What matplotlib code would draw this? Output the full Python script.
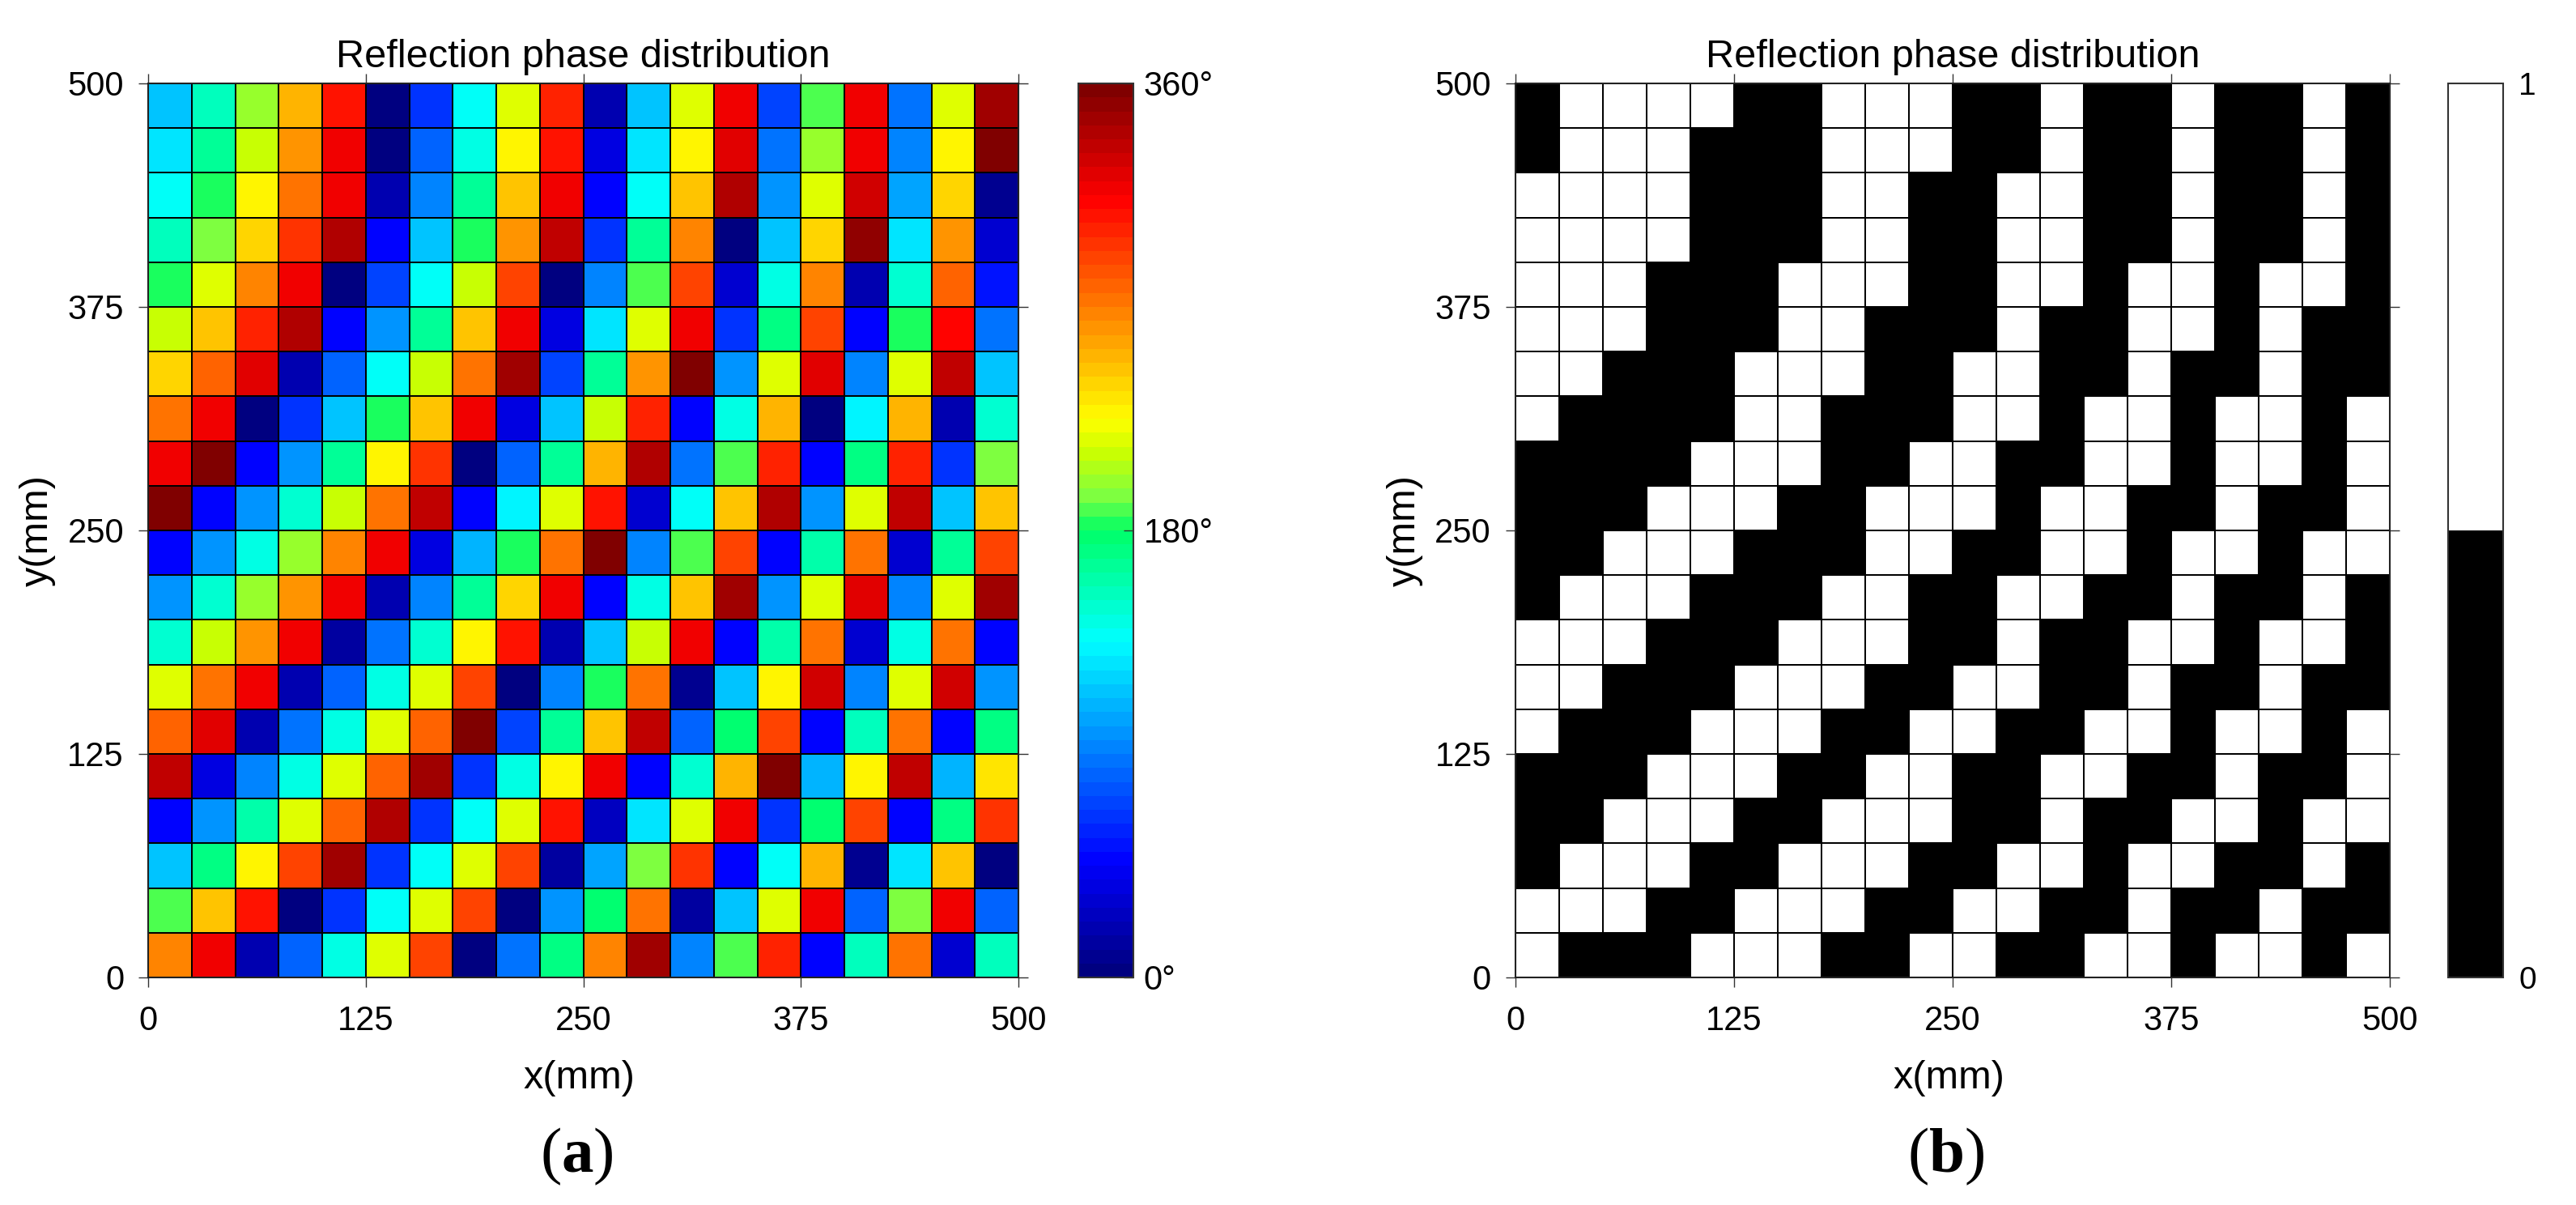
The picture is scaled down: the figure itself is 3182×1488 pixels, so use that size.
import numpy as np
import matplotlib
matplotlib.use("Agg")
import matplotlib.pyplot as plt
from matplotlib.colors import LinearSegmentedColormap, ListedColormap, Normalize

# ---------------- data (rows listed from top, y=500, to bottom, y=0) ----------------
phase_deg = [
    [117, 155, 202, 253, 307,   0,  67, 140, 214, 301,  22, 117, 219, 315,  73, 190, 315,  85, 219, 348],
    [124, 166, 209, 259, 315,   5,  79, 145, 225, 309,  34, 129, 230, 321,  85, 202, 315,  90, 225, 355],
    [135, 180, 225, 275, 315,  22,  90, 165, 243, 315,  45, 140, 243, 339,  96, 219, 327, 104, 237,   8],
    [155, 194, 241, 294, 339,  45, 113, 182, 259, 333,  67, 165, 265,   3, 117, 237, 351, 124, 259,  33],
    [180, 219, 265, 315,   3,  73, 140, 209, 289,   0,  93, 190, 292,  33, 145, 267,  22, 150, 281,  56],
    [209, 247, 301, 339,  45, 101, 168, 243, 315,  38, 129, 219, 315,  67, 171, 292,  45, 180, 312,  85],
    [237, 281, 321,  22,  79, 140, 209, 275, 348,  73, 165, 259, 355, 101, 214, 321,  90, 214, 333, 117],
    [275, 315,   3,  62, 117, 180, 247, 315,  34, 117, 209, 301,  45, 145, 253,   3, 132, 253,  20, 150],
    [315, 355,  45, 101, 165, 225, 295,   3,  79, 165, 253, 339,  85, 190, 301,  45, 172, 301,  67, 196],
    [355,  45,  96, 148, 209, 275, 333,  45, 132, 214, 307,  33, 135, 243, 339, 101, 219, 333, 113, 247],
    [ 45,  96, 145, 202, 265, 315,  34, 107, 181, 270, 355,  93, 190, 292,  45, 160, 275,  33, 165, 292],
    [101, 148, 202, 259, 315,  20,  93, 166, 241, 315,  50, 145, 247, 348,  96, 214, 321,  90, 219, 345],
    [150, 209, 259, 315,  14,  88, 148, 225, 307,  22, 117, 209, 315,  45, 160, 270,  33, 145, 275,  45],
    [219, 270, 315,  20,  81, 145, 214, 292,   3,  93, 180, 275,  11, 113, 225, 327,  90, 214, 327, 101],
    [281, 321,  20,  85, 145, 214, 281, 355,  73, 165, 247, 333,  81, 177, 292,  45, 155, 275,  45, 171],
    [333,  38,  90, 145, 214, 281, 345,  67, 145, 230, 315,  45, 149, 253, 355, 107, 225, 333, 107, 233],
    [ 45,  98, 160, 219, 281, 339,  62, 135, 219, 304,  25, 124, 219, 315,  67, 177, 292,  45, 172, 298],
    [117, 172, 230, 292, 345,  62, 135, 214, 292,  14, 104, 196, 298,  45, 140, 253,   8, 124, 247,   3],
    [190, 247, 307,   3,  67, 140, 214, 287,   3,  96, 177, 275,  14, 113, 219, 315,  79, 196, 315,  79],
    [265, 315,  20,  81, 145, 214, 287,   0,  88, 172, 265, 345,  90, 190, 301,  45, 155, 275,  33, 155],
]

coding_bits = [
    [0, 1, 1, 1, 1, 0, 0, 1, 1, 1, 0, 0, 1, 0, 0, 1, 0, 0, 1, 0],
    [0, 1, 1, 1, 0, 0, 0, 1, 1, 1, 0, 0, 1, 0, 0, 1, 0, 0, 1, 0],
    [1, 1, 1, 1, 0, 0, 0, 1, 1, 0, 0, 1, 1, 0, 0, 1, 0, 0, 1, 0],
    [1, 1, 1, 1, 0, 0, 0, 1, 1, 0, 0, 1, 1, 0, 0, 1, 0, 0, 1, 0],
    [1, 1, 1, 0, 0, 0, 1, 1, 1, 0, 0, 1, 1, 0, 1, 1, 0, 1, 1, 0],
    [1, 1, 1, 0, 0, 0, 1, 1, 0, 0, 0, 1, 0, 0, 1, 1, 0, 1, 0, 0],
    [1, 1, 0, 0, 0, 1, 1, 1, 0, 0, 1, 1, 0, 0, 1, 0, 0, 1, 0, 0],
    [1, 0, 0, 0, 0, 1, 1, 0, 0, 0, 1, 1, 0, 1, 1, 0, 1, 1, 0, 1],
    [0, 0, 0, 0, 1, 1, 1, 0, 0, 1, 1, 0, 0, 1, 1, 0, 1, 1, 0, 1],
    [0, 0, 0, 1, 1, 1, 0, 0, 1, 1, 1, 0, 1, 1, 0, 0, 1, 0, 0, 1],
    [0, 0, 1, 1, 1, 0, 0, 0, 1, 1, 0, 0, 1, 1, 0, 1, 1, 0, 1, 1],
    [0, 1, 1, 1, 0, 0, 0, 1, 1, 0, 0, 1, 1, 0, 0, 1, 0, 0, 1, 0],
    [1, 1, 1, 0, 0, 0, 1, 1, 1, 0, 0, 1, 0, 0, 1, 1, 0, 1, 1, 0],
    [1, 1, 0, 0, 0, 1, 1, 1, 0, 0, 1, 1, 0, 0, 1, 0, 0, 1, 0, 0],
    [1, 0, 0, 0, 1, 1, 1, 0, 0, 1, 1, 0, 0, 1, 1, 0, 1, 1, 0, 1],
    [0, 0, 0, 1, 1, 1, 0, 0, 1, 1, 0, 0, 1, 1, 0, 0, 1, 0, 0, 1],
    [0, 0, 1, 1, 1, 0, 0, 1, 1, 1, 0, 0, 1, 0, 0, 1, 1, 0, 1, 1],
    [0, 1, 1, 1, 0, 0, 1, 1, 1, 0, 0, 1, 1, 0, 1, 1, 0, 0, 1, 0],
    [1, 1, 1, 0, 0, 1, 1, 1, 0, 0, 1, 1, 0, 0, 1, 0, 0, 1, 0, 0],
    [1, 0, 0, 0, 1, 1, 1, 0, 0, 1, 1, 0, 0, 1, 1, 0, 1, 1, 0, 1],
]

axis_ticks = [0, 125, 250, 375, 500]
axis_max = 500
phase_ticks = [0, 180, 360]
phase_tick_labels = ["0°", "180°", "360°"]
bit_ticks = [0, 1]
bit_tick_labels = ["0", "1"]
title_text = "Reflection phase distribution"
x_label = "x(mm)"
y_label = "y(mm)"
panel_letters = ["a", "b"]

# ---------------- style ----------------
plt.rcParams["font.family"] = ["Liberation Sans", "DejaVu Sans"]
plt.rcParams["mathtext.fontset"] = "custom"
plt.rcParams["mathtext.bf"] = "Liberation Serif:bold"
plt.rcParams["mathtext.rm"] = "Liberation Serif"

W, H = 3182, 1488
fig = plt.figure(figsize=(W / 100, H / 100), dpi=100)

def fx(px):
    return px / W

def fy(py):
    return 1 - py / H

# jet-like colormap of the reference (64 steps)
jet_like = LinearSegmentedColormap.from_list(
    "jet_like",
    [(0.000, (0.0, 0.0, 0.5)),
     (0.125, (0.0, 0.0, 1.0)),
     (0.375, (0.0, 1.0, 1.0)),
     (0.500, (0.0, 1.0, 0.4)),
     (0.540, (0.5, 1.0, 0.25)),
     (0.590, (0.8, 1.0, 0.0)),
     (0.625, (1.0, 1.0, 0.0)),
     (0.875, (1.0, 0.0, 0.0)),
     (1.000, (0.5, 0.0, 0.0))],
    N=64)
bw = ListedColormap(["black", "white"])

ax_top, ax_bot = 103, 1207
ax_h = (ax_bot - ax_top) / H
panels = [
    dict(left=183, right=1258, cleft=1332, cright=1400),
    dict(left=1872, right=2952, cleft=3024, cright=3092),
]

tick_color = "#333333"
font_tick = 30
font_label = 35

def style_axes(ax):
    ax.set_xlim(0, axis_max)
    ax.set_ylim(0, axis_max)
    ax.set_xticks(axis_ticks)
    ax.set_yticks(axis_ticks)
    ax.tick_params(axis="both", which="both", direction="out", length=8.6, width=1.0,
                   color=tick_color, labelsize=font_tick, top=True, right=True)
    ax.tick_params(axis="x", pad=16)
    ax.tick_params(axis="y", pad=13)
    for s in ax.spines.values():
        s.set_linewidth(1.5)
        s.set_color("#222222")

grids = [np.flipud(np.array(phase_deg, dtype=float)), np.flipud(np.array(coding_bits, dtype=float))]

for i, p in enumerate(panels):
    ax = fig.add_axes([fx(p["left"]), fy(ax_bot), (p["right"] - p["left"]) / W, ax_h])
    data = grids[i]
    nrow, ncol = data.shape
    xe = np.linspace(0, axis_max, ncol + 1)
    ye = np.linspace(0, axis_max, nrow + 1)
    if i == 0:
        mesh = ax.pcolormesh(xe, ye, data, cmap=jet_like, vmin=phase_ticks[0], vmax=phase_ticks[-1],
                             edgecolors="black", linewidth=1.3)
    else:
        mesh = ax.pcolormesh(xe, ye, data, cmap=bw, vmin=bit_ticks[0], vmax=bit_ticks[-1],
                             edgecolors="black", linewidth=1.3)
    style_axes(ax)

    cx = (p["left"] + p["right"]) / 2
    fig.text(fx(cx), fy(83), title_text, ha="center", va="baseline", fontsize=font_label)
    fig.text(fx(cx - 5), fy(1331), x_label, ha="center", va="center", fontsize=font_label)
    fig.text(fx(p["left"] - 137), fy((ax_top + ax_bot) / 2), y_label, ha="center", va="center",
             rotation=90, fontsize=font_label)
    fig.text(fx(cx - 8), fy(1428), "(" + r"$\mathbf{" + panel_letters[i] + "}$" + ")",
             ha="center", va="center", fontsize=57, family="Liberation Serif")

    cax = fig.add_axes([fx(p["cleft"]), fy(ax_bot), (p["cright"] - p["cleft"]) / W, ax_h])
    if i == 0:
        cb = fig.colorbar(mesh, cax=cax, ticks=phase_ticks)
        cb.ax.set_yticklabels(phase_tick_labels)
        cb.ax.tick_params(direction="in", length=8.6, width=1.0, color=tick_color,
                          labelsize=font_tick, pad=9)
    else:
        cb = fig.colorbar(mesh, cax=cax, ticks=bit_ticks)
        cb.ax.set_yticklabels(bit_tick_labels)
        cb.ax.tick_params(length=0, labelsize=font_tick - 2, pad=14)
    cb.outline.set_linewidth(1.5)
    cb.outline.set_edgecolor("#333333")

fig.savefig("out.png", dpi=100)
